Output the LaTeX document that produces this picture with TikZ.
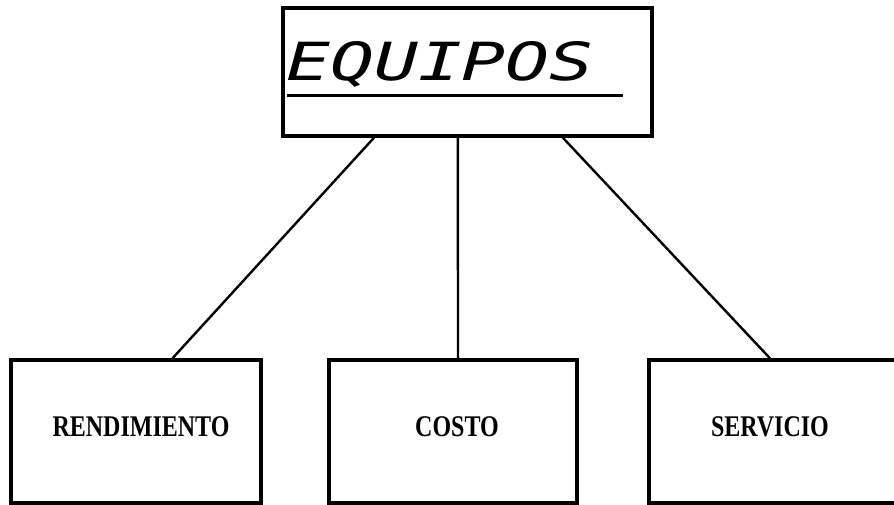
\documentclass[tikz,border=0pt]{standalone}
\usepackage{fontspec}
\usepackage{graphicx}
\usetikzlibrary{calc}
\newfontfamily\boxfont{Liberation Serif}
\newfontfamily\titlefont{DejaVu Sans Mono}
\tikzset{
  frame/.style={draw=black, line width=3.4pt, inner sep=0pt},
  link/.style={draw=black, line width=2.4pt},
  lbl/.style={font=\boxfont\bfseries\fontsize{24}{28}\selectfont}
}
\begin{document}
\begin{tikzpicture}[x=1pt,y=-1pt]
\useasboundingbox (0,0) rectangle (894,505);
\clip (0,0) rectangle (894,505);
\fill[white] (0,0) rectangle (894,505);
% boxes
\node[frame, minimum width=369pt, minimum height=128pt] (top) at (467.5,72) {};
\node[frame, minimum width=250pt, minimum height=143pt] (rend) at (136,431.5) {};
\node[frame, minimum width=248pt, minimum height=143pt] (cost) at (453,431.5) {};
\node[frame, minimum width=248pt, minimum height=143pt] (serv) at (773,431.5) {};
% labels
\node[inner sep=0pt] (ttl) at (440,64) {\scalebox{1}[0.72]{\titlefont\itshape\fontsize{73}{80}\selectfont EQUIPOS}};
\coordinate (ul1) at (287,96);
\coordinate (ul2) at (623,96);
\draw[line width=3pt] (ul1) -- (ul2);
\node[lbl, inner sep=0pt] (t1) at (141,427) {\scalebox{1}[1.25]{RENDIMIENTO}};
\node[lbl, inner sep=0pt] (t2) at (457,427) {\scalebox{1}[1.25]{COSTO}};
\node[lbl, inner sep=0pt] (t3) at (770,427) {\scalebox{1}[1.25]{SERVICIO}};
% connectors
\draw[link] ($(top.south west)!0.249!(top.south east)$) -- ($(rend.north west)!0.644!(rend.north east)$);
\draw[link] ($(top.south west)!0.474!(top.south east)$) -- ($(cost.north west)!0.52!(cost.north east)$);
\draw[link] ($(top.south west)!0.756!(top.south east)$) -- ($(serv.north west)!0.488!(serv.north east)$);
\end{tikzpicture}
\end{document}
